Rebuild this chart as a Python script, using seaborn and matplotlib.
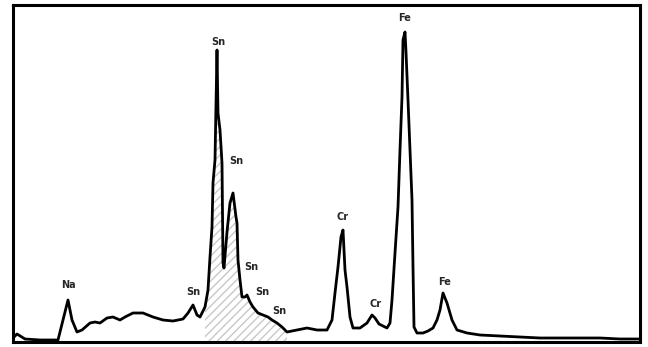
import pandas as pd
import matplotlib
matplotlib.use('Agg')
import matplotlib.pyplot as plt
import seaborn as sns

sns.set_theme(style='white')
plt.rcParams['font.family'] = ['Liberation Sans Narrow', 'DejaVu Sans']

# spectrum trace (channel, counts above the bottom frame)
channel = [13, 17, 25, 40, 58, 63, 68, 72, 77, 82, 90, 95, 100, 107, 113, 120,
           125, 133, 143, 153, 163, 173, 183, 188, 193, 197, 200, 205, 208,
           210, 212, 213, 215, 217, 218, 220, 222, 223, 224, 227, 230, 233,
           236, 237, 238, 240, 242, 245, 247, 250, 253, 258, 263, 268, 272,
           277, 282, 287, 297, 307, 317, 327, 332, 335, 338, 341, 343, 345,
           347, 350, 353, 360, 367, 372, 375, 379, 383, 387, 390, 392, 395,
           398, 400, 402, 403, 405, 406, 408, 410, 412, 413, 414, 417, 423,
           428, 433, 437, 440, 443, 447, 452, 457, 467, 480, 500, 520, 540,
           560, 580, 600, 620, 640]
counts = [4, 8, 3, 2, 2, 22, 42, 22, 10, 12, 19, 20, 19, 24, 25, 22,
          25, 29, 29, 25, 22, 21, 23, 29, 37, 27, 25, 35, 52,
          85, 115, 159, 182, 292, 229, 212, 179, 79, 74, 110, 139, 149,
          125, 119, 82, 62, 45, 45, 47, 40, 35, 29, 27, 25, 22,
          19, 15, 10, 12, 14, 12, 12, 22, 49, 75, 105, 112, 72,
          55, 25, 14, 14, 19, 27, 24, 18, 16, 14, 19, 42, 89,
          135, 192, 245, 302, 310, 290, 242, 192, 142, 75, 15, 9, 9,
          11, 14, 22, 32, 49, 39, 22, 12, 9, 7, 6, 5, 4,
          4, 4, 4, 3, 3]

# peak labels
label_text = ['Na', 'Sn', 'Sn', 'Sn', 'Sn', 'Sn', 'Sn', 'Cr', 'Cr', 'Fe', 'Fe']
label_x = [68, 193, 218, 236, 251, 262, 279, 343, 376, 405, 445]
label_y = [57, 50, 300, 181, 75, 50, 31, 125, 38, 324, 60]

spec = pd.DataFrame({'channel': channel, 'counts': counts})

fig = plt.figure(figsize=(6.48, 3.47), dpi=100)
ax = fig.add_axes([13 / 648, 5 / 347, 627 / 648, 337 / 347])

# light hatching under the tin cluster
mask = (spec['channel'] >= 205) & (spec['channel'] <= 290)
ax.fill_between(spec['channel'][mask], 0, spec['counts'][mask],
                facecolor='none', edgecolor='#c8c8c8', hatch='////', linewidth=0)

sns.lineplot(data=spec, x='channel', y='counts', ax=ax, color='black',
             linewidth=2.0, sort=False, estimator=None)

for t, x, y in zip(label_text, label_x, label_y):
    ax.text(x, y, t, ha='center', va='center', fontsize=7, fontweight='bold')

ax.set_xlim(13, 640)
ax.set_ylim(0, 337)
ax.set_xticks([])
ax.set_yticks([])
ax.set_xlabel('')
ax.set_ylabel('')
for s in ax.spines.values():
    s.set_visible(True)
    s.set_color('black')
    s.set_linewidth(2.2)

fig.savefig('out.png', dpi=100, facecolor='white')
